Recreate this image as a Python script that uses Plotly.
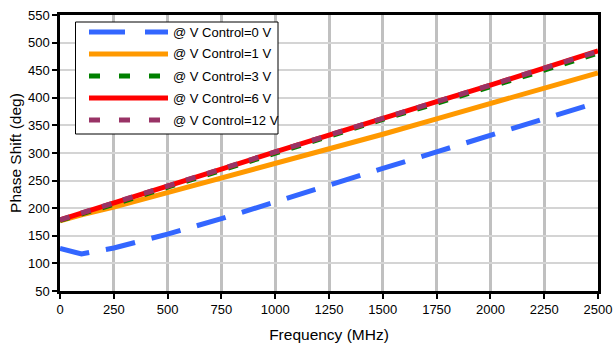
import plotly.graph_objects as go

freq = [0, 100, 250, 500, 750, 1000, 1250, 1500, 1750, 2000, 2250, 2500]
v0 = [127, 117, 128, 153, 181, 212, 242, 272, 302, 332, 363, 392]
v1 = [177, 188, 202, 228, 254, 280, 307, 334, 362, 389, 417, 445]
v3 = [178, 189, 207, 238, 269, 300, 331, 361, 390, 419, 450, 481]
v6 = [179, 191, 209, 240, 271, 302, 333, 364, 393, 423, 454, 485]
v12 = [179, 191, 209, 240, 271, 302, 333, 364, 393, 423, 454, 484]

names = ["@ V Control=0 V", "@ V Control=1 V", "@ V Control=3 V",
         "@ V Control=6 V", "@ V Control=12 V"]
series = [v0, v1, v3, v6, v12]
colors = ["#3366ff", "#ff9900", "#008000", "#ff0000", "#993366"]
dashes = ["30px,17px", "solid", "10px,12px", "solid", "10px,12px"]
legend_dashes = ["36px,20px", "solid", "11px,19px", "solid", "11px,19px"]

fig = go.Figure()
for n, s, c, d in zip(names, series, colors, dashes):
    fig.add_trace(go.Scatter(x=freq, y=s, mode="lines", name=n, showlegend=False,
                             line=dict(color=c, width=5, dash=d)))

# custom legend (paper coordinates) matching the long line samples
L, R, T, B = 60, 598, 15, 291
def px(x):
    return (x - L) / (R - L)
def py(y):
    return 1 - (y - T) / (B - T)

fig.add_shape(type="rect", xref="paper", yref="paper",
              x0=px(75.5), x1=px(278), y0=py(22), y1=py(134),
              line=dict(color="black", width=1), fillcolor="white", layer="above")
row_y = [32, 54, 76, 98, 120]
for n, c, d, ry in zip(names, colors, legend_dashes, row_y):
    fig.add_shape(type="line", xref="paper", yref="paper",
                  x0=px(89), x1=px(168), y0=py(ry), y1=py(ry),
                  line=dict(color=c, width=5, dash=d), layer="above")
    fig.add_annotation(xref="paper", yref="paper", x=px(171), y=py(ry),
                       text=n, showarrow=False, xanchor="left", yanchor="middle",
                       font=dict(size=13, color="black"))

font = "Liberation Sans, Arial, sans-serif"
fig.update_layout(
    width=614, height=350,
    margin=dict(l=60, r=16, t=15, b=59),
    paper_bgcolor="white", plot_bgcolor="white",
    font=dict(family=font, size=13, color="black"),
    showlegend=False,
    xaxis=dict(range=[0, 2500], tickvals=list(range(0, 2501, 250)),
               automargin=False,
               showgrid=True, gridcolor="#c0c0c0", gridwidth=2.5,
               showline=True, linecolor="black", linewidth=2.5, mirror=True,
               ticks="outside", ticklen=5, tickwidth=2, tickcolor="black",
               zeroline=False,
               title=dict(text="Frequency (MHz)", font=dict(size=15.5), standoff=13)),
    yaxis=dict(range=[50, 550], tickvals=list(range(50, 551, 50)),
               automargin=False,
               showgrid=True, gridcolor="#d4d4d4", gridwidth=1.5,
               showline=True, linecolor="black", linewidth=2.5, mirror=True,
               ticks="outside", ticklen=5, tickwidth=2, tickcolor="black",
               zeroline=False,
               title=dict(text="Phase Shift (deg)", font=dict(size=15.5), standoff=3)),
)

fig.write_html("out.html")
